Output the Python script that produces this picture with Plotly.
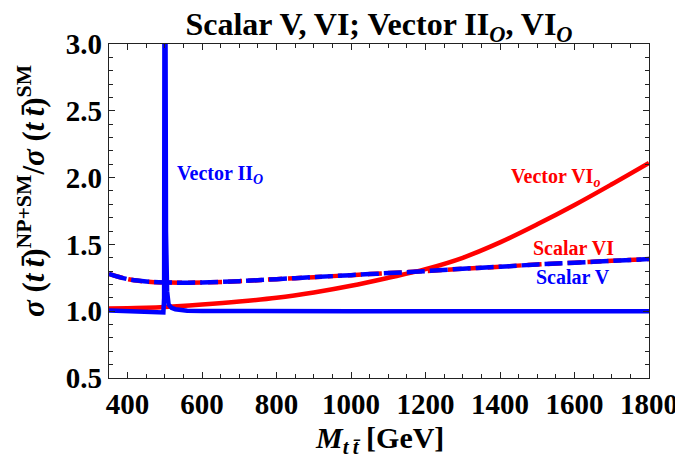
import plotly.graph_objects as go

# ---- data ----
m_smooth = [350, 400, 450, 500, 600, 700, 800, 900, 1000, 1100, 1200, 1300, 1400, 1500, 1600, 1700, 1800]

vector_VIo = [1.020, 1.022, 1.026, 1.032, 1.050, 1.072, 1.100, 1.140, 1.190, 1.250, 1.315, 1.400, 1.515, 1.650, 1.795, 1.950, 2.110]

scalar_VI = [1.280, 1.240, 1.222, 1.215, 1.215, 1.225, 1.240, 1.255, 1.270, 1.285, 1.300, 1.318, 1.333, 1.350, 1.363, 1.377, 1.390]
scalar_V = [1.280, 1.240, 1.222, 1.215, 1.215, 1.225, 1.240, 1.255, 1.270, 1.285, 1.300, 1.318, 1.333, 1.350, 1.363, 1.377, 1.390]

m_res = [350, 400, 450, 480, 488, 493, 496, 498, 499, 500, 501, 503, 506, 510, 518, 528, 545, 560, 600, 700, 1000, 1400, 1800]
vector_IIO = [1.005, 1.0, 0.995, 0.99, 0.985, 0.983, 0.99, 1.1, 2.5, 6.0, 4.0, 1.6, 1.15, 1.05, 1.025, 1.015, 1.008, 1.004, 1.002, 1.0, 1.0, 1.0, 1.0]

x_ticks = [400, 600, 800, 1000, 1200, 1400, 1600, 1800]
y_ticks = [0.5, 1.0, 1.5, 2.0, 2.5, 3.0]

RED = "rgb(255,0,0)"
BLUE = "rgb(0,0,255)"
FONT = "Liberation Serif, Times New Roman, Times, serif"

fig = go.Figure()
fig.add_trace(go.Scatter(x=m_smooth, y=vector_VIo, mode="lines", line=dict(color=RED, width=4.5, shape="spline")))
fig.add_trace(go.Scatter(x=m_smooth, y=scalar_VI, mode="lines", line=dict(color=RED, width=4.5, dash="14px,6px", shape="spline")))
fig.add_trace(go.Scatter(x=m_smooth, y=scalar_V, mode="lines", line=dict(color=BLUE, width=4.5, dash="18px,5px", shape="spline")))
fig.add_trace(go.Scatter(x=m_res, y=vector_IIO, mode="lines", line=dict(color=BLUE, width=4.5)))

ann_font = dict(family=FONT, size=20, weight="bold")
annotations = [
    dict(x=526, y=2.02, xref="x", yref="y", xanchor="left", yanchor="middle", showarrow=False,
         text="Vector II<sub><i>O</i></sub>", font=dict(ann_font, color=BLUE)),
    dict(x=1550, y=2.00, xref="x", yref="y", xanchor="center", yanchor="middle", showarrow=False,
         text="Vector VI<sub><i>o</i></sub>", font=dict(ann_font, color=RED)),
    dict(x=1598, y=1.47, xref="x", yref="y", xanchor="center", yanchor="middle", showarrow=False,
         text="Scalar VI", font=dict(ann_font, color=RED)),
    dict(x=1595, y=1.255, xref="x", yref="y", xanchor="center", yanchor="middle", showarrow=False,
         text="Scalar V", font=dict(ann_font, color=BLUE)),
    dict(x=-0.1426, y=0.56, xref="paper", yref="paper", xanchor="center", yanchor="middle", showarrow=False,
         textangle=-90,
         text="<i>σ</i> (<i>t\u2009t\u0304</i>)<sup>NP+SM</sup>/<i>σ</i> (<i>t\u2009t\u0304</i>)<sup>SM</sup>",
         font=dict(family=FONT, size=31, weight="bold", color="black")),
    dict(x=0.5, y=-0.186, xref="paper", yref="paper", xanchor="center", yanchor="middle", showarrow=False,
         text="<i>M</i><sub><i>t\u2009t\u0304</i></sub> [GeV]",
         font=dict(family=FONT, size=30, weight="bold", color="black")),
]

axis_common = dict(
    showgrid=False, zeroline=False, showline=True, linecolor="#222", linewidth=1.3,
    mirror="ticks", ticks="inside", ticklen=6, tickwidth=1, tickcolor="#222", automargin=False,
    ticklabeloverflow="allow",
    tickfont=dict(family=FONT, size=29, weight="bold", color="black"),
)

# the page body adds an 8px offset, so the figure is 8px smaller and margins shifted
fig.update_layout(
    width=675, height=461,
    margin=dict(l=101, r=34, t=36, b=91, autoexpand=False),
    paper_bgcolor="white", plot_bgcolor="white",
    showlegend=False,
    title=dict(text="Scalar V, VI; Vector II<sub><i>O</i></sub>, VI<sub><i>O</i></sub>",
               x=0.5, xref="paper", y=0.965, yref="container", xanchor="center", yanchor="middle",
               font=dict(family=FONT, size=32, weight="bold", color="black")),
    xaxis=dict(axis_common, range=[350, 1800], tickvals=x_ticks,
               minor=dict(dtick=50, tick0=0, ticks="inside", ticklen=4, tickcolor="#222")),
    yaxis=dict(axis_common, range=[0.5, 3.0], tickvals=y_ticks, tickformat=".1f",
               minor=dict(dtick=0.1, tick0=0, ticks="inside", ticklen=4, tickcolor="#222")),
    annotations=annotations,
)

fig.write_html("out.html")
